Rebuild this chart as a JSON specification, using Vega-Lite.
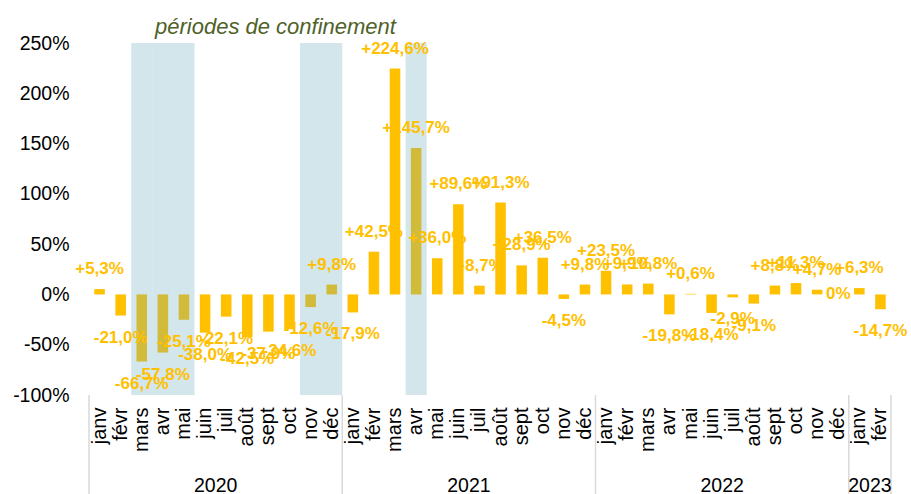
{
  "$schema": "https://vega.github.io/schema/vega-lite/v6.json",
  "width": 802,
  "height": 352,
  "autosize": {"type": "none"},
  "padding": {"left": 89, "top": 43, "right": 20, "bottom": 99},
  "background": "white",
  "title": {
    "text": "périodes de confinement",
    "anchor": "start",
    "frame": "group",
    "dx": 66,
    "offset": -23,
    "baseline": "alphabetic",
    "font": "Liberation Sans",
    "fontStyle": "italic",
    "fontWeight": "normal",
    "fontSize": 22,
    "color": "#4F6228"
  },
  "config": {
    "view": {"stroke": null},
    "locale": {
      "number": {"decimal": ",", "thousands": " ", "grouping": [3], "currency": ["", " €"], "minus": "-", "percent": "%"}
    }
  },
  "datasets": {
    "months": [
      {"date": "2020-01", "v": 0.053, "conf": false}, {"date": "2020-02", "v": -0.21, "conf": false}, {"date": "2020-03", "v": -0.667, "conf": true},
      {"date": "2020-04", "v": -0.578, "conf": true}, {"date": "2020-05", "v": -0.251, "conf": true}, {"date": "2020-06", "v": -0.38, "conf": false},
      {"date": "2020-07", "v": -0.221, "conf": false}, {"date": "2020-08", "v": -0.425, "conf": false}, {"date": "2020-09", "v": -0.37, "conf": false},
      {"date": "2020-10", "v": -0.346, "conf": false}, {"date": "2020-11", "v": -0.126, "conf": true}, {"date": "2020-12", "v": 0.098, "conf": true},
      {"date": "2021-01", "v": -0.179, "conf": false}, {"date": "2021-02", "v": 0.425, "conf": false}, {"date": "2021-03", "v": 2.246, "conf": false},
      {"date": "2021-04", "v": 1.457, "conf": true}, {"date": "2021-05", "v": 0.36, "conf": false}, {"date": "2021-06", "v": 0.896, "conf": false},
      {"date": "2021-07", "v": 0.087, "conf": false}, {"date": "2021-08", "v": 0.913, "conf": false}, {"date": "2021-09", "v": 0.289, "conf": false},
      {"date": "2021-10", "v": 0.365, "conf": false}, {"date": "2021-11", "v": -0.045, "conf": false}, {"date": "2021-12", "v": 0.098, "conf": false},
      {"date": "2022-01", "v": 0.235, "conf": false}, {"date": "2022-02", "v": 0.099, "conf": false}, {"date": "2022-03", "v": 0.108, "conf": false},
      {"date": "2022-04", "v": -0.198, "conf": false}, {"date": "2022-05", "v": 0.006, "conf": false}, {"date": "2022-06", "v": -0.184, "conf": false},
      {"date": "2022-07", "v": -0.029, "conf": false}, {"date": "2022-08", "v": -0.091, "conf": false}, {"date": "2022-09", "v": 0.088, "conf": false},
      {"date": "2022-10", "v": 0.113, "conf": false}, {"date": "2022-11", "v": 0.047, "conf": false}, {"date": "2022-12", "v": 0, "conf": false},
      {"date": "2023-01", "v": 0.063, "conf": false}, {"date": "2023-02", "v": -0.147, "conf": false}
    ],
    "years": [
      {"year": "2020", "mid": "2020-07"},
      {"year": "2021", "mid": "2021-07"},
      {"year": "2022", "mid": "2022-07"},
      {"year": "2023", "mid": "2023-02"}
    ],
    "bounds": [
      {"at": "2020-01"}, {"at": "2021-01"}, {"at": "2022-01"}, {"at": "2023-01"}
    ],
    "lastbound": [
      {"at": "2023-02"}
    ]
  },
  "layer": [
    {
      "data": {"name": "months"},
      "mark": {"type": "bar", "color": "#FFC000", "width": {"band": 0.5}},
      "encoding": {
        "x": {
          "field": "date", "type": "ordinal",
          "scale": {"paddingInner": 0, "paddingOuter": 0},
          "axis": {
            "title": null,
            "labelExpr": "['janv','févr','mars','avr','mai','juin','juil','août','sept','oct','nov','déc'][toNumber(slice(datum.value,5,7))-1]",
            "labelAngle": -90,
            "ticks": false,
            "domain": false,
            "grid": false,
            "labelPadding": 12,
            "labelFont": "Liberation Sans",
            "labelFontSize": 20,
            "labelColor": "#000000",
            "labelOverlap": false,
            "labelBound": false
          }
        },
        "y": {
          "field": "v", "type": "quantitative",
          "scale": {"domain": [-1, 2.5], "nice": false},
          "axis": {
            "title": null,
            "values": [-1, -0.5, 0, 0.5, 1, 1.5, 2, 2.5],
            "format": ".0%",
            "ticks": false,
            "domain": false,
            "grid": false,
            "labelPadding": 20,
            "labelFont": "Liberation Sans",
            "labelFontSize": 19.5,
            "labelColor": "#000000"
          }
        }
      }
    },
    {
      "mark": {"type": "rule", "color": "#D9D9D9", "strokeWidth": 2},
      "encoding": {"y": {"datum": 0}}
    },
    {
      "data": {"name": "months"},
      "transform": [{"filter": "datum.conf"}],
      "mark": {"type": "rect", "color": "#69ACC0", "opacity": 0.3},
      "encoding": {
        "x": {"field": "date", "type": "ordinal", "title": null}
      }
    },
    {
      "data": {"name": "bounds"},
      "mark": {"type": "rule", "color": "#D9D9D9", "strokeWidth": 1.5},
      "encoding": {
        "x": {"field": "at", "type": "ordinal", "bandPosition": 0, "title": null},
        "y": {"datum": -1},
        "y2": {"datum": -1.985}
      }
    },
    {
      "data": {"name": "lastbound"},
      "mark": {"type": "rule", "color": "#D9D9D9", "strokeWidth": 1.5},
      "encoding": {
        "x": {"field": "at", "type": "ordinal", "bandPosition": 1, "title": null},
        "y": {"datum": -1},
        "y2": {"datum": -1.985}
      }
    },
    {
      "data": {"name": "years"},
      "mark": {"type": "text", "font": "Liberation Sans", "fontSize": 19.5, "color": "#000000", "baseline": "alphabetic", "align": "center"},
      "encoding": {
        "x": {"field": "mid", "type": "ordinal", "bandPosition": 0, "title": null},
        "y": {"datum": -1.96},
        "text": {"field": "year"}
      }
    },
    {
      "data": {"name": "months"},
      "transform": [{"filter": "datum.v > 0"}],
      "mark": {"type": "text", "font": "Liberation Sans", "fontWeight": "bold", "fontSize": 17, "color": "#FFC000", "baseline": "middle", "dy": -20},
      "encoding": {
        "x": {"field": "date", "type": "ordinal", "title": null},
        "y": {"field": "v", "type": "quantitative"},
        "text": {"field": "v", "type": "quantitative", "format": "+.1%"}
      }
    },
    {
      "data": {"name": "months"},
      "transform": [{"filter": "datum.v < 0"}],
      "mark": {"type": "text", "font": "Liberation Sans", "fontWeight": "bold", "fontSize": 17, "color": "#FFC000", "baseline": "middle", "dy": 22},
      "encoding": {
        "x": {"field": "date", "type": "ordinal", "title": null},
        "y": {"field": "v", "type": "quantitative"},
        "text": {"field": "v", "type": "quantitative", "format": ".1%"}
      }
    },
    {
      "data": {"name": "months"},
      "transform": [{"filter": "datum.v == 0"}],
      "mark": {"type": "text", "font": "Liberation Sans", "fontWeight": "bold", "fontSize": 17, "color": "#FFC000", "baseline": "middle", "dy": 0},
      "encoding": {
        "x": {"field": "date", "type": "ordinal", "title": null},
        "y": {"field": "v", "type": "quantitative"},
        "text": {"field": "v", "type": "quantitative", "format": ".0%"}
      }
    }
  ]
}
